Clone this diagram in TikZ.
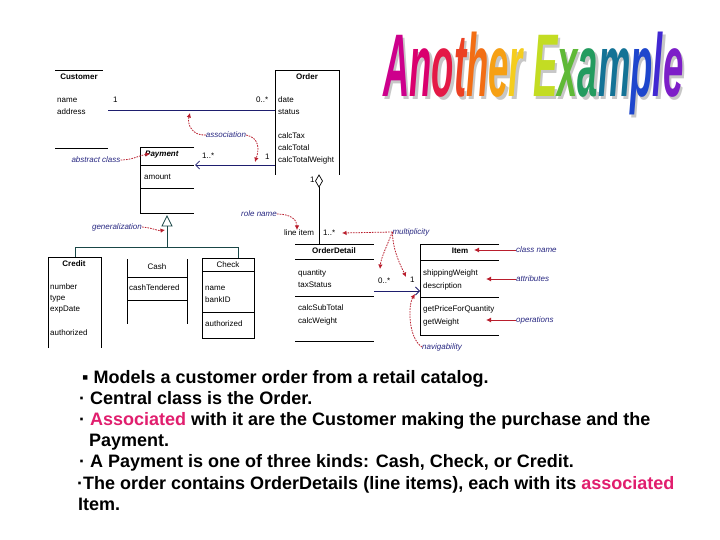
\documentclass[tikz,border=0pt]{standalone}
\usepackage{fontspec}
\setmainfont{Liberation Sans}
\usetikzlibrary{arrows.meta}
\definecolor{annot}{RGB}{40,40,130}
\definecolor{redarr}{RGB}{185,30,45}
\definecolor{assoc}{RGB}{30,30,110}
\definecolor{genc}{RGB}{25,70,70}
\definecolor{pinkc}{RGB}{225,30,110}
\definecolor{ca}{RGB}{205,0,140}
\definecolor{cb}{RGB}{218,0,110}
\definecolor{cc}{RGB}{228,25,70}
\definecolor{cd}{RGB}{236,65,35}
\definecolor{ce}{RGB}{242,110,20}
\definecolor{cf}{RGB}{246,160,20}
\definecolor{cg}{RGB}{245,205,30}
\definecolor{ch}{RGB}{195,220,35}
\definecolor{ci}{RGB}{95,185,55}
\definecolor{cj}{RGB}{35,155,95}
\definecolor{ck}{RGB}{20,115,150}
\definecolor{cl}{RGB}{30,70,205}
\definecolor{cm}{RGB}{65,40,210}
\definecolor{cn}{RGB}{125,30,200}
\begin{document}
\begin{tikzpicture}[x=1pt,y=-1pt,
  txt/.style={font=\fontsize{8}{9}\selectfont, inner sep=0pt, anchor=west},
  hdr/.style={font=\fontsize{8}{9}\selectfont\bfseries, inner sep=0pt},
  hdrn/.style={font=\fontsize{8}{9}\selectfont, inner sep=0pt},
  ann/.style={font=\fontsize{8}{9}\selectfont\itshape, text=annot, inner sep=0pt},
  box/.style={line width=0.7pt},
  asc/.style={assoc, line width=0.8pt},
  gen/.style={genc, line width=0.8pt},
  barb/.style={-{Straight Barb[length=4pt,width=8pt]}},
  rarr/.style={redarr, line width=0.8pt, dash pattern=on 1.6pt off 1.1pt, -{Latex[length=4.5pt,width=4.5pt]}},
  rsolid/.style={redarr, line width=1pt, -{Latex[length=5pt,width=5pt]}},
  para/.style={font=\fontsize{18}{21}\selectfont\bfseries, inner sep=0pt, anchor=base west},
]
\useasboundingbox (0,0) rectangle (720,540);
\fill[white] (0,0) rectangle (720,540);

% ---------- Title (with light shadow in the same node) ----------
\node[anchor=base west, inner sep=0pt, font=\fontsize{89}{89}\selectfont\bfseries\itshape] (title) at (383,97)
  {\scalebox{0.41}[1]{\makebox[0pt][l]{\hspace{6pt}\raisebox{-2.5pt}{\textcolor{black!22}{Another Example}}}%
  \textcolor{ca}{A}\textcolor{cb}{n}\textcolor{cc}{o}\textcolor{cd}{t}\textcolor{ce}{h}\textcolor{cf}{e}\textcolor{cg}{r} \textcolor{ch}{E}\textcolor{ci}{x}\textcolor{cj}{a}\textcolor{ck}{m}\textcolor{cl}{p}\textcolor{cm}{l}\textcolor{cn}{e}}};

% ---------- Customer ----------
\node[hdr] (custH) at (79,77) {Customer};
\node[txt] (custA1) at (57,100) {name};
\node[txt] (custA2) at (57,112) {address};
\draw[box] (55,70) -- (103,70);
\draw[box] (55,148) -- (108,148);

% ---------- Order ----------
\node[hdr] (ordH) at (307,77) {Order};
\node[txt] (ordA1) at (278,100) {date};
\node[txt] (ordA2) at (278,112) {status};
\node[txt] (ordO1) at (278,136) {calcTax};
\node[txt] (ordO2) at (278,148) {calcTotal};
\node[txt] (ordO3) at (278,160) {calcTotalWeight};
\draw[box] (275,175) -- (275,70) -- (339,70) -- (339,175);

% Customer -- Order association
\coordinate (custR) at (108,110);
\coordinate (ordL1) at (275,110);
\draw[asc] (custR) -- (ordL1);
\node[txt] (mc1) at (113,100) {1};
\node[txt] (mc2) at (256,100) {0..*};

% ---------- Payment ----------
\node[hdr, font=\fontsize{8}{9}\selectfont\bfseries\itshape, anchor=west] (payH) at (145,155) {Payment};
\node[txt] (payA) at (144,177) {amount};
\draw[box] (194,147) -- (140,147) -- (140,213) -- (194,213);
\draw[box] (140,165) -- (194,165);
\draw[box] (140,188) -- (194,188);

\coordinate (payR) at (195,165);
\coordinate (ordL2) at (275,165);
\draw[asc, barb] (ordL2) -- (payR);
\node[txt] (mp1) at (202,156) {1..*};
\node[txt] (mp2) at (265,157) {1};

% ---------- Generalization ----------
\coordinate (triApex) at (167,216);
\coordinate (triL) at (162,226);
\coordinate (triR) at (172,226);
\coordinate (triBase) at (167,226);
\coordinate (barMid) at (167,247);
\coordinate (credTop) at (75,257);
\coordinate (checkTop) at (238,258);
\draw[gen, fill=white] (triApex) -- (triR) -- (triL) -- cycle;
\draw[gen] (triBase) -- (barMid);
\draw[gen] (credTop) -- (75,247) -- (238,247) -- (checkTop);

% ---------- Credit ----------
\draw[box] (48,348) -- (48,257) -- (101,257) -- (101,348);
\node[hdr] (credH) at (74,264) {Credit};
\node[txt] (credA1) at (50,287) {number};
\node[txt] (credA2) at (50,299) {type};
\node[txt] (credA3) at (50,310) {expDate};
\node[txt] (credA4) at (50,333) {authorized};

% ---------- Cash ----------
\draw[box] (127,259) -- (127,324);
\draw[box] (187,259) -- (187,324);
\draw[box] (127,277) -- (187,277);
\draw[box] (127,300) -- (187,300);
\node[hdrn] (cashH) at (157,267) {Cash};
\node[txt] (cashA) at (129,288) {cashTendered};

% ---------- Check ----------
\draw[box] (202,258) rectangle (254,338);
\draw[box] (202,271) -- (254,271);
\draw[box] (202,312) -- (254,312);
\node[hdrn] (checkH) at (228,265) {Check};
\node[txt] (checkA1) at (205,288) {name};
\node[txt] (checkA2) at (205,300) {bankID};
\node[txt] (checkO1) at (205,324) {authorized};

% ---------- Aggregation Order -> OrderDetail ----------
\coordinate (diaT) at (319,175);
\coordinate (diaB) at (319,187);
\coordinate (odTop) at (319,244);
\draw[box, fill=white] (diaT) -- (322.5,181) -- (diaB) -- (315.5,181) -- cycle;
\draw[box] (diaB) -- (odTop);
\node[txt] (ma1) at (310,180) {1};
\node[txt] (lineitem) at (284,233) {line item};
\node[txt] (ma2) at (323,233) {1..*};

% ---------- OrderDetail ----------
\draw[box] (295,244) -- (374,244);
\draw[box] (295,259) -- (374,259);
\draw[box] (295,296) -- (374,296);
\draw[box] (295,341) -- (374,341);
\node[hdr] (odH) at (334,251) {OrderDetail};
\node[txt] (odA1) at (298,273) {quantity};
\node[txt] (odA2) at (298,285) {taxStatus};
\node[txt] (odO1) at (298,308) {calcSubTotal};
\node[txt] (odO2) at (298,321) {calcWeight};

% ---------- Item ----------
\draw[box] (499,244) -- (420,244) -- (420,335) -- (499,335);
\draw[box] (420,260) -- (499,260);
\draw[box] (420,297) -- (499,297);
\node[hdr] (itemH) at (460,251) {Item};
\node[txt] (itemA1) at (423,273) {shippingWeight};
\node[txt] (itemA2) at (423,286) {description};
\node[txt] (itemO1) at (423,309) {getPriceForQuantity};
\node[txt] (itemO2) at (423,322) {getWeight};

% OrderDetail -> Item
\coordinate (odR) at (374,291);
\coordinate (itemL) at (420,291);
\draw[asc, barb] (odR) -- (itemL);
\node[txt] (mi1) at (378,281) {0..*};
\node[txt] (mi2) at (410,280) {1};

% ---------- Annotations ----------
\node[ann] (lAssoc) at (226,135) {association};
\coordinate (tAssoc1) at (190,113);
\coordinate (tAssoc2) at (255,162);
\draw[rarr] (lAssoc.west) .. controls (192,136) and (187,124) .. (tAssoc1);
\draw[rarr] (lAssoc.east) .. controls (260,138) and (259,150) .. (tAssoc2);

\node[ann] (lAbs) at (96,160) {abstract class};
\coordinate (tAbs) at (150,154);
\draw[rarr] (lAbs.east) .. controls (133,160) and (140,155) .. (tAbs);

\node[ann] (lGen) at (117,227) {generalization};
\coordinate (tGen) at (165,230);
\draw[rarr] (lGen.east) .. controls (153,228) and (158,231) .. (tGen);

\node[ann] (lRole) at (259,214) {role name};
\coordinate (tRole) at (297,230);
\draw[rarr] (lRole.east) .. controls (291,214) and (297,220) .. (tRole);

\node[ann] (lMult) at (411,232) {multiplicity};
\coordinate (tMult1) at (342,233);
\coordinate (tMult2) at (380,269);
\coordinate (tMult3) at (406,277);
\draw[rarr] (lMult.west) -- (tMult1);
\draw[rarr] (lMult.west) .. controls (386,248) and (381,258) .. (tMult2);
\draw[rarr] (lMult.west) .. controls (393,252) and (401,266) .. (tMult3);

\node[ann] (lNav) at (442,347) {navigability};
\coordinate (tNav) at (415,294);
\draw[rarr] (lNav.west) .. controls (408,338) and (408,305) .. (tNav);

\node[ann, anchor=west] (lCls) at (516,250) {class name};
\coordinate (tCls) at (474,250);
\draw[rsolid] (lCls.west) -- (tCls);

\node[ann, anchor=west] (lAttr) at (516,279) {attributes};
\coordinate (tAttr) at (486,279);
\draw[rsolid] (lAttr.west) -- (tAttr);

\node[ann, anchor=west] (lOps) at (516,320) {operations};
\coordinate (tOps) at (486,320);
\draw[rsolid] (lOps.west) -- (tOps);

% ---------- Paragraph text ----------
\node[para] (p1) at (82,383) {▪ Models a customer order from a retail catalog.};
\node[para] (p2) at (79,404) {· Central class is the Order.};
\node[para] (p3) at (79,425) {· \textcolor{pinkc}{Associated} with it are the Customer making the purchase and the};
\node[para] (p4) at (89,446) {Payment.};
\node[para] (p5) at (79,467.5) {· A Payment is one of three kinds: Cash, Check, or Credit.};
\node[para] (p6) at (77,489) {·The order contains OrderDetails (line items), each with its \textcolor{pinkc}{associated}};
\node[para] (p7) at (78,510) {Item.};
\end{tikzpicture}
\end{document}
